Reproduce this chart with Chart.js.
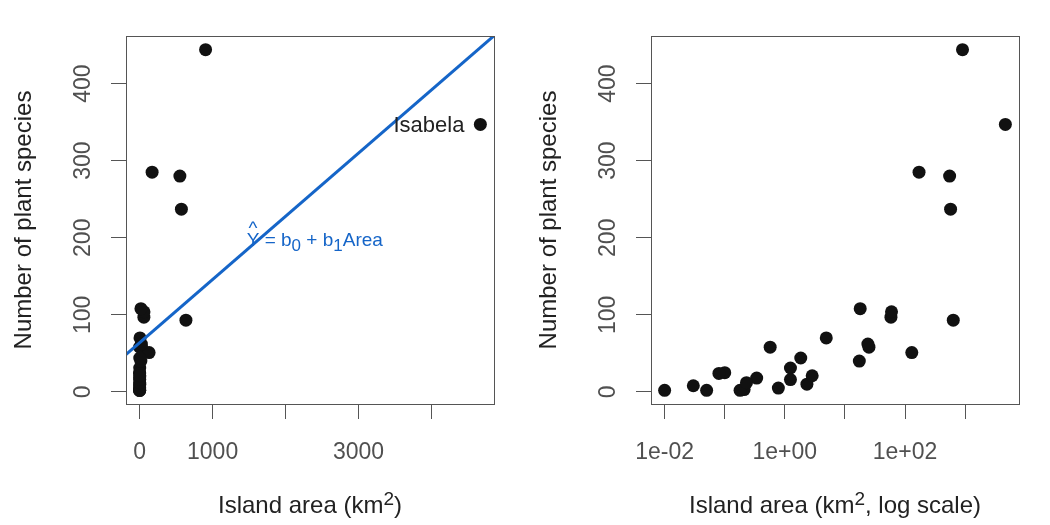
<!DOCTYPE html>
<html>
<head>
<meta charset="utf-8">
<script src="https://cdn.jsdelivr.net/npm/chart.js@4.4.0/dist/chart.umd.min.js"></script>
<style>
body { margin: 0; background: #fff; width: 1050px; height: 525px; overflow: hidden; }
canvas { position: absolute; top: 0; }
</style>
</head>
<body>
<canvas id="linear-chart" width="525" height="525" style="left:0"></canvas>
<canvas id="log-chart" width="525" height="525" style="left:525px"></canvas>
<script>
// Galapagos islands: plant species vs island area
const islands = ['Baltra', 'Bartolome', 'Caldwell', 'Champion', 'Coamano', 'Daphne.Major',
	'Daphne.Minor', 'Darwin', 'Eden', 'Enderby', 'Espanola', 'Fernandina', 'Gardner1',
	'Gardner2', 'Genovesa', 'Isabela', 'Marchena', 'Onslow', 'Pinta', 'Pinzon', 'Las.Plazas',
	'Rabida', 'SanCristobal', 'SanSalvador', 'SantaCruz', 'SantaFe', 'SantaMaria', 'Seymour',
	'Tortuga', 'Wolf'];
const species = [58, 31, 3, 25, 2, 18, 24, 10, 8, 2, 97, 93, 58, 5, 40, 347, 51, 2, 104, 108,
	12, 70, 280, 237, 444, 62, 285, 44, 16, 21];
const area = [25.09, 1.24, 0.21, 0.10, 0.05, 0.34, 0.08, 2.33, 0.03, 0.18, 58.27, 634.49, 0.57,
	0.78, 17.35, 4669.32, 129.49, 0.01, 59.56, 17.95, 0.23, 4.89, 551.62, 572.33, 903.82, 24.08,
	170.92, 1.84, 1.24, 2.85];

// fitted line (ends past both sides of the plot, clipped)
const fitArea = [-200, 4900];
const fitSpecies = [47.4, 465.6];

const areaTicks = [0, 1000, 2000, 3000, 4000];
const areaTickLabels = ['0', '1000', '', '3000', ''];
const logTicks = [0.01, 0.1, 1, 10, 100, 1000];
const logTickLabels = ['1e-02', '', '1e+00', '', '1e+02', ''];
const speciesTicks = [0, 100, 200, 300, 400];
const speciesTickLabels = ['0', '100', '200', '300', '400'];

const FONT = '"Liberation Sans", Arial, sans-serif';
const BLUE = '#1565C8';

function pad(lo, hi) {
	const d = (hi - lo) * 0.04;
	return [lo - d, hi + d];
}
const [xMin, xMax] = pad(Math.min(...area), Math.max(...area));
const [yMin, yMax] = pad(Math.min(...species), Math.max(...species));
const [lMin, lMax] = pad(Math.log10(Math.min(...area)), Math.log10(Math.max(...area)));

// draw a list of text pieces, some raised or lowered
function drawRich(ctx, parts, x, y, size, small) {
	small = small || 0.78;
	const fontOf = p => ((p.sup || p.sub) ? Math.round(size * small) : size) + 'px ' + FONT;
	const widths = parts.map(p => { ctx.font = fontOf(p); return ctx.measureText(p.t).width; });
	let cx = x - widths.reduce((a, b) => a + b, 0) / 2;
	ctx.textAlign = 'left';
	ctx.textBaseline = 'alphabetic';
	parts.forEach((p, i) => {
		ctx.font = fontOf(p);
		const dy = p.sup ? -size * 0.34 : p.sub ? size * 0.24 : 0;
		ctx.fillText(p.t, cx, y + dy);
		if (p.hat) {
			ctx.textAlign = 'center';
			ctx.fillText('^', cx + widths[i] / 2, y - size * 0.62);
			ctx.textAlign = 'left';
		}
		cx += widths[i];
	});
}

const rAxes = {
	id: 'rAxes',
	afterDraw(chart, args, opts) {
		const {ctx, chartArea: a, scales: {x, y}} = chart;
		ctx.save();
		ctx.strokeStyle = '#555';
		ctx.lineWidth = 1;
		ctx.strokeRect(a.left + 0.5, a.top + 0.5, a.right - a.left, a.bottom - a.top);

		ctx.fillStyle = '#505050';
		ctx.font = '23px ' + FONT;
		ctx.textAlign = 'center';
		ctx.textBaseline = 'alphabetic';
		x.ticks.forEach((t, i) => {
			if (opts.xLabels[i]) ctx.fillText(opts.xLabels[i], x.getPixelForValue(t.value), 459);
		});
		y.ticks.forEach((t, i) => {
			ctx.save();
			ctx.translate(90, y.getPixelForValue(t.value));
			ctx.rotate(-Math.PI / 2);
			ctx.fillText(speciesTickLabels[i], 0, 0);
			ctx.restore();
		});

		ctx.fillStyle = '#222';
		drawRich(ctx, opts.xTitle, (a.left + a.right) / 2, 513, 24);
		ctx.save();
		ctx.translate(31, (a.top + a.bottom) / 2);
		ctx.rotate(-Math.PI / 2);
		drawRich(ctx, [{t: 'Number of plant species'}], 0, 0, 24);
		ctx.restore();

		if (opts.notes) {
			const i = islands.indexOf('Isabela');
			ctx.font = '22px ' + FONT;
			ctx.textAlign = 'right';
			ctx.fillText('Isabela', x.getPixelForValue(area[i]) - 16, y.getPixelForValue(species[i]) + 8);
			ctx.fillStyle = BLUE;
			drawRich(ctx, [{t: 'Y', hat: true}, {t: ' = b'}, {t: '0', sub: true}, {t: ' + b'},
				{t: '1', sub: true}, {t: 'Area'}], x.getPixelForValue(2400), y.getPixelForValue(189), 19, 0.92);
		}
		ctx.restore();
	}
};

function makeScales(xType, xlo, xhi, ticks) {
	const grid = {drawOnChartArea: false, drawTicks: true, tickLength: 15, color: '#555'};
	return {
		x: {
			type: xType, min: xlo, max: xhi,
			afterBuildTicks: s => { s.ticks = ticks.map(v => ({value: v})); },
			afterFit: s => { s.height = 121; },
			ticks: {display: false}, grid: grid, border: {display: false}
		},
		y: {
			type: 'linear', min: yMin, max: yMax,
			afterBuildTicks: s => { s.ticks = speciesTicks.map(v => ({value: v})); },
			afterFit: s => { s.width = 126; },
			ticks: {display: false}, grid: grid, border: {display: false}
		}
	};
}

const points = area.map((a, i) => ({x: a, y: species[i]}));
const pointStyle = {pointRadius: 6.5, pointBackgroundColor: '#111', pointBorderWidth: 0, pointHoverRadius: 6.5};

new Chart(document.getElementById('linear-chart'), {
	type: 'scatter',
	data: {
		datasets: [{
			type: 'line',
			data: fitArea.map((a, i) => ({x: a, y: fitSpecies[i]})),
			borderColor: BLUE, borderWidth: 3, pointRadius: 0
		}, Object.assign({data: points}, pointStyle)]
	},
	options: {
		responsive: false, animation: false, events: [],
		layout: {padding: {top: 36, right: 31, left: 0, bottom: 0}},
		scales: makeScales('linear', xMin, xMax, areaTicks),
		plugins: {
			legend: {display: false}, tooltip: {enabled: false},
			rAxes: {xLabels: areaTickLabels, notes: true,
				xTitle: [{t: 'Island area (km'}, {t: '2', sup: true}, {t: ')'}]}
		}
	},
	plugins: [rAxes]
});

new Chart(document.getElementById('log-chart'), {
	type: 'scatter',
	data: {datasets: [Object.assign({data: points}, pointStyle)]},
	options: {
		responsive: false, animation: false, events: [],
		layout: {padding: {top: 36, right: 31, left: 0, bottom: 0}},
		scales: makeScales('logarithmic', Math.pow(10, lMin), Math.pow(10, lMax), logTicks),
		plugins: {
			legend: {display: false}, tooltip: {enabled: false},
			rAxes: {xLabels: logTickLabels, notes: false,
				xTitle: [{t: 'Island area (km'}, {t: '2', sup: true}, {t: ', log scale)'}]}
		}
	},
	plugins: [rAxes]
});
</script>
</body>
</html>
